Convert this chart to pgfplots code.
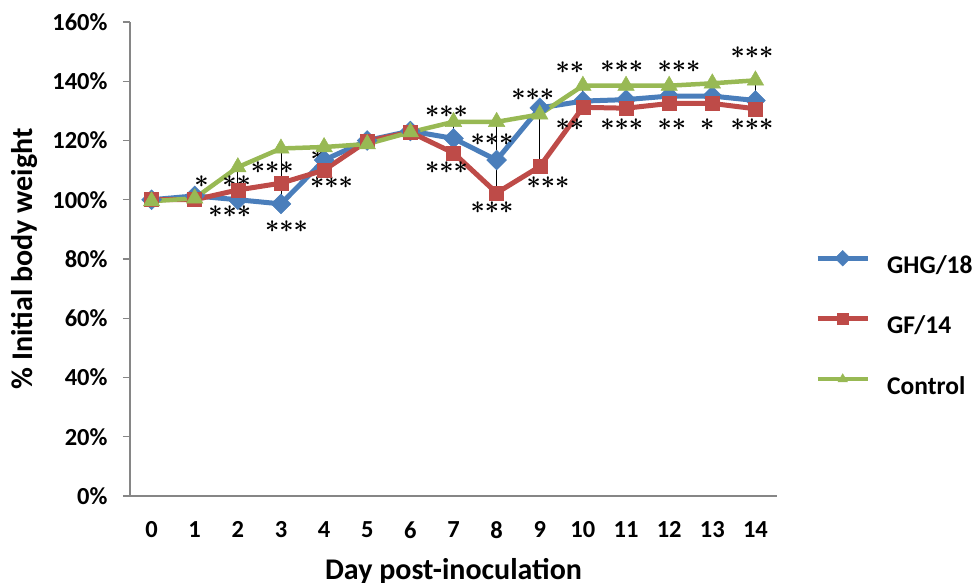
\documentclass[border=0pt]{standalone}
\usepackage{fontspec}
\setmainfont{Carlito}
\usepackage{pgfplots}
\pgfplotsset{compat=1.18}
\definecolor{cblue}{HTML}{4A7EBB}
\definecolor{cred}{HTML}{BE4B48}
\definecolor{cgreen}{HTML}{98B954}
\definecolor{axgray}{HTML}{868686}
\newcommand{\stars}[1]{{\fontsize{29bp}{29bp}\selectfont\boldmath$#1$}}
\begin{document}
\begin{tikzpicture}
\begin{axis}[
 name=ax,
 scale only axis, width=647bp, height=474bp,
 xmin=-0.5, xmax=14.5, ymin=0, ymax=160,
 axis x line*=bottom, axis y line*=left,
 axis line style={draw=axgray, line width=1.3bp, -},
 xtick={0,...,14}, ytick={0,20,...,160},
 yticklabel={\pgfmathprintnumber{\tick}\%},
 /pgf/number format/assume math mode=true,
 tick align=outside,
 major tick length=7bp,
 xtick style={draw=none},
 ytick style={draw=axgray, line width=1.3bp},
 ticklabel style={font=\fontsize{24.5bp}{28bp}\selectfont\bfseries},
 xticklabel style={yshift=-15bp},
 yticklabel style={xshift=-12bp},
 xlabel={Day post-inoculation},
 ylabel={\% Initial body weight},
 label style={font=\fontsize{30bp}{34bp}\selectfont\bfseries},
 xlabel style={at={(axis description cs:0.5,-0.176)}, anchor=base},
 ylabel style={at={(axis description cs:-0.163,0.5)}, anchor=center, rotate=0},
 legend style={at={(1,0.36)}, anchor=west, xshift=38bp, draw=none, fill=none,
   inner sep=0pt, row sep=34bp,
   font=\fontsize{25.5bp}{30bp}\selectfont\bfseries,
   nodes={inner sep=0pt, text height=19bp, text depth=6bp},
   /tikz/every odd column/.append style={column sep=17bp}},
 legend cell align=left,
 legend image code/.code={\draw[#1, mark repeat=2, mark phase=2] plot coordinates {(0bp,8.5bp) (25bp,8.5bp) (50bp,8.5bp)};},
 legend image post style={mark size=5.5bp},
 clip=false,
]
\addplot[cblue, line width=5bp, mark=square*, mark size=7bp, mark options={rotate=45, line width=0.5bp}]
 coordinates {(0,100) (1,101.3) (2,100) (3,98.6) (4,113.4) (5,120) (6,123.2) (7,120.7) (8,113.4) (9,131) (10,133.3) (11,133.8) (12,135) (13,135) (14,133.5)};
\addlegendentry{GHG/18}
\addplot[cred, line width=5bp, mark=square*, mark size=7bp, mark options={line width=0.5bp}]
 coordinates {(0,100) (1,100) (2,103.3) (3,105.6) (4,110) (5,119.8) (6,122.8) (7,115.8) (8,102.3) (9,111.2) (10,131.2) (11,130.9) (12,132.5) (13,132.5) (14,130.7)};
\addlegendentry{GF/14}
\addplot[cgreen, line width=4.5bp, mark=triangle*, mark size=9.5bp, mark options={line width=0.5bp}]
 coordinates {(0,99.5) (1,100.5) (2,111) (3,117.3) (4,117.8) (5,118.8) (6,122.8) (7,126.3) (8,126.3) (9,128.8) (10,138.5) (11,138.5) (12,138.5) (13,139.3) (14,140.3)};
\addlegendentry{Control}
\addplot[black, line width=0.9bp, forget plot, unbounded coords=jump]
 coordinates {(1,100) (1,101.3) (1,nan) (2,100) (2,111) (2,nan) (3,98.6) (3,117.3) (3,nan)
 (4,110) (4,117.8) (4,nan) (5,118.8) (5,120) (5,nan) (6,122.8) (6,123.2) (6,nan)
 (7,115.8) (7,126.3) (7,nan) (8,102.3) (8,126.3) (8,nan) (9,111.2) (9,131) (9,nan)
 (10,131.2) (10,138.5) (10,nan) (11,130.9) (11,138.5) (11,nan) (12,132.5) (12,138.5) (12,nan)
 (13,132.5) (13,139.3) (13,nan) (14,130.7) (14,140.3)};
\begin{scope}[every node/.style={inner sep=0pt, anchor=center}]
\node at (axis cs:1.16,106) {\stars{\ast}};
\node at (axis cs:1.97,106) {\stars{{\ast}{\ast}}};
\node at (axis cs:1.81,95.9) {\stars{{\ast}{\ast}{\ast}}};
\node at (axis cs:2.8,110.7) {\stars{{\ast}{\ast}{\ast}}};
\node at (axis cs:3.13,90.8) {\stars{{\ast}{\ast}{\ast}}};
\node at (axis cs:3.85,115) {\stars{\ast}};
\node at (axis cs:4.17,105.7) {\stars{{\ast}{\ast}{\ast}}};
\node at (axis cs:6.84,129.6) {\stars{{\ast}{\ast}{\ast}}};
\node at (axis cs:6.84,111) {\stars{{\ast}{\ast}{\ast}}};
\node at (axis cs:7.89,120.2) {\stars{{\ast}{\ast}{\ast}}};
\node at (axis cs:7.89,97.2) {\stars{{\ast}{\ast}{\ast}}};
\node at (axis cs:8.84,135.4) {\stars{{\ast}{\ast}{\ast}}};
\node at (axis cs:9.19,105.7) {\stars{{\ast}{\ast}{\ast}}};
\node at (axis cs:9.7,144.5) {\stars{{\ast}{\ast}}};
\node at (axis cs:9.7,125.2) {\stars{{\ast}{\ast}}};
\node at (axis cs:10.9,144.8) {\stars{{\ast}{\ast}{\ast}}};
\node at (axis cs:10.9,125.2) {\stars{{\ast}{\ast}{\ast}}};
\node at (axis cs:12.23,144.8) {\stars{{\ast}{\ast}{\ast}}};
\node at (axis cs:12.06,125.2) {\stars{{\ast}{\ast}}};
\node at (axis cs:12.88,125.2) {\stars{\ast}};
\node at (axis cs:13.92,149.5) {\stars{{\ast}{\ast}{\ast}}};
\node at (axis cs:13.92,125.2) {\stars{{\ast}{\ast}{\ast}}};
\end{scope}
\end{axis}
\pgfresetboundingbox
\path[use as bounding box] ([xshift=-130bp,yshift=-87bp]ax.south west) rectangle ([xshift=844bp,yshift=496bp]ax.south west);
\end{tikzpicture}
\end{document}
